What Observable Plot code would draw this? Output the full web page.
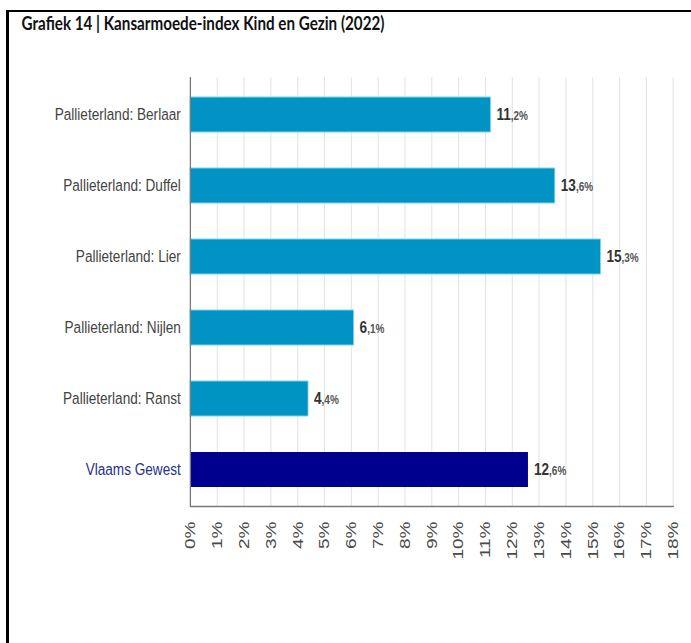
<!DOCTYPE html>
<html>
<head>
<meta charset="utf-8">
<script src="https://cdn.jsdelivr.net/npm/d3@7"></script>
<script src="https://cdn.jsdelivr.net/npm/@observablehq/plot@0.6"></script>
<style>
  html, body { margin: 0; padding: 0; background: #fff; overflow: hidden; width: 691px; height: 643px; }
  #wrap { position: absolute; left: 0; top: 0; width: 864px; height: 643px; transform: scaleX(0.8); transform-origin: 0 0; }
  #title { position: absolute; left: 27px; top: 11px; font-family: Lato, "Open Sans", sans-serif; font-weight: 700; font-size: 19px; color: #111; white-space: nowrap; }
  #chart { position: absolute; left: 0; top: 0; }
  #border { position: absolute; left: 6px; top: 10px; width: 700px; height: 700px; border-left: 3px solid #000; border-top: 2px solid #000; pointer-events: none; }
</style>
</head>
<body>
<div id="wrap">
  <div id="chart"></div>
  <div id="title">Grafiek 14 | Kansarmoede-index Kind en Gezin (2022)</div>
</div>
<div id="border"></div>
<script>
const categories = [
  "Pallieterland: Berlaar",
  "Pallieterland: Duffel",
  "Pallieterland: Lier",
  "Pallieterland: Nijlen",
  "Pallieterland: Ranst",
  "Vlaams Gewest"
];
const values = [11.2, 13.6, 15.3, 6.1, 4.4, 12.6];
const tickValues = [0, 1, 2, 3, 4, 5, 6, 7, 8, 9, 10, 11, 12, 13, 14, 15, 16, 17, 18];
const regionName = "Vlaams Gewest";

const data = categories.map((c, i) => ({
  category: c,
  value: values[i],
  label: values[i].toFixed(1).replace(".", ",") + "%"
}));
const local = data.filter(d => d.category !== regionName);
const region = data.filter(d => d.category === regionName);

const chart = Plot.plot({
  width: 864,
  height: 643,
  marginLeft: 237.5,
  marginRight: 23,
  marginTop: 77,
  marginBottom: 137,
  style: { fontFamily: "'Liberation Sans', Arial, sans-serif", background: "transparent" },
  x: { domain: [0, 18] },
  y: { domain: categories, paddingInner: 0.51, paddingOuter: 0.245, axis: null },
  marks: [
    Plot.gridX(tickValues, { stroke: "#e3e3e3", strokeOpacity: 1, strokeWidth: 1.3 }),
    Plot.barX(local, { x: "value", y: "category", fill: "#0093c4", stroke: "#79d3ef", strokeWidth: 1 }),
    Plot.barX(region, { x: "value", y: "category", fill: "#00008e" }),
    Plot.ruleX([0], { stroke: "#7a7a7a", strokeWidth: 1.6 }),
    Plot.frame({ anchor: "bottom", stroke: "#7a7a7a", strokeWidth: 1.6 }),
    Plot.axisX(tickValues, { tickSize: 0, tickPadding: 15, tickRotate: -90, tickFormat: d => d + "%", fontSize: 19, fill: "#4a4a4a", label: null }),
    Plot.text(local, { y: "category", frameAnchor: "left", textAnchor: "end", dx: -12, text: "category", fill: "#444", fontSize: 17 }),
    Plot.text(region, { y: "category", frameAnchor: "left", textAnchor: "end", dx: -12, text: "category", fill: "#26308a", fontSize: 17 }),
    Plot.text(data, { x: "value", y: "category", text: "label", textAnchor: "start", dx: 7, fill: "#333", fontSize: 17, fontWeight: "bold", className: "vlabel" })
  ]
});
document.getElementById("chart").appendChild(chart);

// split value labels into a large integer part and a small decimal part
d3.select(chart).selectAll(".vlabel text").each(function () {
  const s = this.textContent;
  const idx = s.indexOf(",");
  const sel = d3.select(this);
  sel.text(null);
  sel.append("tspan").text(s.slice(0, idx));
  sel.append("tspan").attr("font-size", 12.5).attr("font-weight", "bold").attr("fill", "#555").text(s.slice(idx));
});
</script>
</body>
</html>
